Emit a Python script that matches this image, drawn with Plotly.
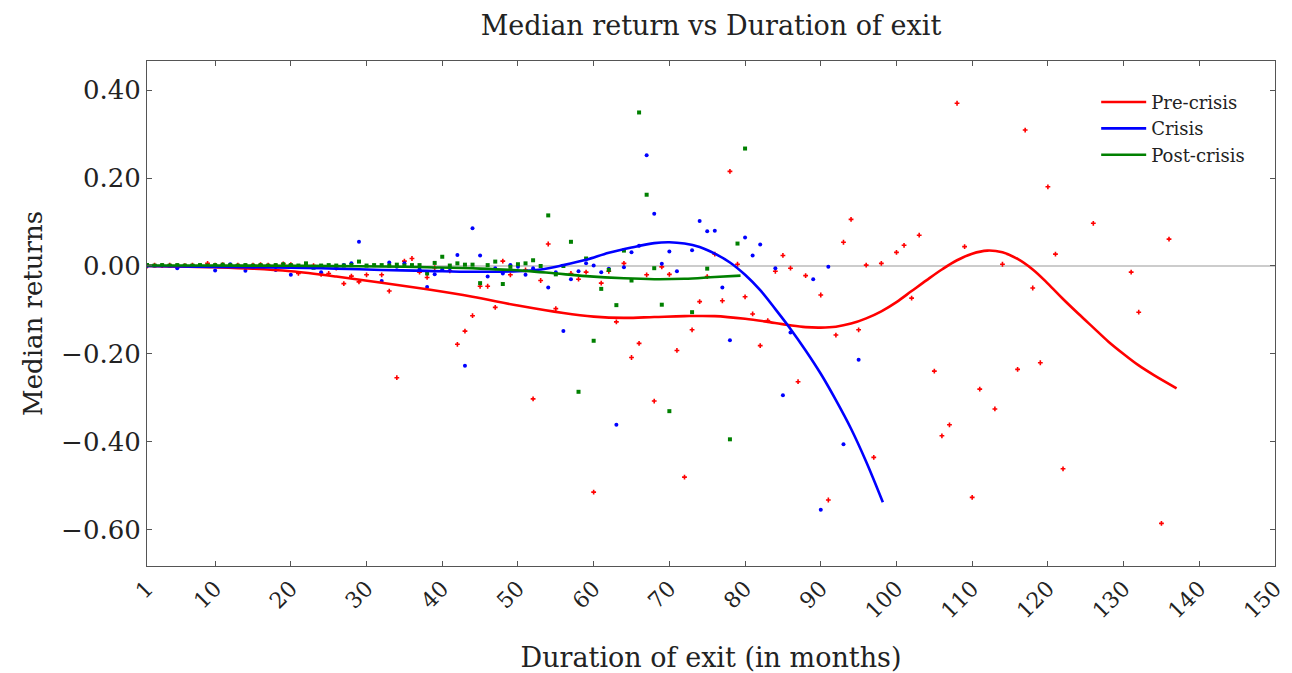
import plotly.graph_objects as go

# ---------------- data ----------------
# Pre-crisis scatter (month, median return)
pre_x = [1, 2, 3, 4, 5, 6, 7, 8, 9, 10, 11, 12, 13, 14, 15, 16, 17, 18, 19, 20,
         21, 22, 23, 24, 25, 26, 27, 28, 29, 30, 32, 33, 34, 35, 36, 37, 38, 39, 41, 42,
         43, 44, 45, 46, 47, 48, 49, 51, 52, 53, 54, 55, 57, 58, 59, 60, 61, 62, 63, 64,
         65, 66, 67, 68, 69, 70, 71, 72, 73, 74, 75, 76, 77, 78, 79, 80, 81, 82, 83, 84,
         85, 86, 87, 88, 90, 91, 92, 93, 94, 95, 96, 97, 98, 100, 101, 102, 103, 105, 106, 107,
         108, 109, 110, 111, 113, 114, 116, 117, 118, 119, 120, 121, 122, 126, 131, 132, 135, 136]
pre_y = [0.000, 0.002, 0.001, 0.002, 0.001, 0.001, 0.002, 0.001, 0.006, 0.002, 0.003, 0.001, 0.002, 0.001, 0.002, 0.003, 0.002, 0.001, 0.005, 0.003,
         -0.017, 0.000, 0.001, -0.019, -0.017, -0.005, -0.040, -0.023, -0.036, -0.020, -0.020, -0.057, -0.254, 0.011, 0.017, -0.014, -0.026, -0.004, -0.011, -0.178,
         -0.148, -0.113, -0.046, -0.046, -0.094, 0.011, -0.020, -0.009, -0.302, -0.033, 0.050, -0.097, -0.017, -0.030, -0.014, -0.514, -0.039, -0.012, -0.127, 0.006,
         -0.208, -0.176, -0.020, -0.307, -0.002, -0.019, -0.192, -0.480, -0.145, -0.081, -0.024, 0.027, -0.079, 0.215, 0.004, -0.070, -0.109, -0.181, -0.124, -0.012,
         0.024, -0.005, -0.263, -0.022, -0.066, -0.532, -0.157, 0.054, 0.106, -0.145, 0.002, -0.435, 0.006, 0.031, 0.047, -0.073, 0.070, -0.239, -0.386, -0.361,
         0.370, 0.044, -0.526, -0.280, -0.325, 0.004, -0.235, 0.309, -0.050, -0.220, 0.180, 0.027, -0.461, 0.097, -0.014, -0.105, -0.585, 0.061]

# Crisis scatter
cri_x = [1, 5, 10, 12, 14, 18, 20, 22, 24, 27, 28, 29, 32, 33, 34, 35, 37, 38, 39, 40,
         41, 42, 43, 44, 45, 46, 47, 48, 49, 50, 51, 52, 54, 55, 56, 57, 58, 59, 60, 61,
         62, 63, 64, 65, 66, 67, 68, 69, 70, 71, 73, 74, 75, 76, 77, 78, 80, 81, 82, 84,
         85, 86, 89, 90, 91, 93, 95]
cri_y = [0.000, -0.005, -0.010, 0.004, -0.011, -0.009, -0.020, -0.002, -0.014, 0.002, 0.006, 0.055, -0.034, 0.008, -0.002, 0.006, -0.008, -0.048, -0.019, -0.008,
         -0.005, 0.025, -0.227, 0.086, 0.024, -0.024, -0.005, -0.017, 0.002, -0.002, -0.020, -0.005, -0.049, -0.014, -0.148, -0.030, -0.012, 0.006, 0.001, -0.014,
         -0.006, -0.361, -0.003, 0.031, 0.046, 0.252, 0.119, 0.005, 0.033, -0.012, 0.036, 0.102, 0.079, 0.080, -0.049, -0.169, 0.065, 0.024, 0.049, -0.005,
         -0.294, -0.151, -0.030, -0.554, -0.002, -0.405, -0.213]

# Post-crisis scatter
post_x = [1, 2, 3, 4, 5, 6, 7, 8, 9, 10, 11, 12, 13, 14, 15, 16, 17, 18, 19, 20,
          21, 22, 23, 24, 25, 26, 27, 28, 29, 30, 31, 32, 33, 34, 35, 36, 37, 38, 39, 40,
          41, 42, 43, 44, 45, 46, 47, 48, 49, 50, 51, 52, 53, 54, 55, 56, 57, 58, 59, 60,
          61, 62, 63, 64, 65, 66, 67, 68, 69, 70, 73, 75, 78, 79, 80]
post_y = [0.002, 0.001, 0.002, 0.001, 0.002, 0.001, 0.001, 0.002, 0.001, 0.002, 0.003, 0.002, 0.001, 0.002, 0.001, 0.002, 0.001, 0.002, 0.004, 0.002,
          0.001, 0.006, -0.004, 0.001, 0.002, 0.001, 0.001, 0.002, 0.010, 0.001, 0.002, 0.002, 0.001, 0.003, 0.001, 0.002, 0.002, -0.017, 0.007, 0.021,
          0.001, 0.006, 0.003, 0.003, -0.039, 0.002, 0.010, -0.041, -0.002, 0.004, 0.006, 0.013, 0.000, 0.115, -0.019, 0.000, 0.055, -0.286, 0.017, -0.170,
          -0.052, -0.009, -0.089, 0.035, -0.033, 0.349, 0.162, -0.005, -0.088, -0.330, -0.105, -0.006, -0.394, 0.051, 0.267]

# Smoothed trend curves
pre_fit_x = [1, 10, 15, 20, 26, 32, 38, 44, 50, 56, 60, 64, 68, 72, 76, 80, 83, 86, 88, 90,
             92, 94, 96, 98, 100, 102, 104, 106, 108, 110, 112, 114, 116, 118, 120, 122, 124, 126, 128, 130,
             132, 134, 137]
pre_fit_y = [0.000, -0.003, -0.006, -0.012, -0.024, -0.038, -0.053, -0.070, -0.090, -0.107, -0.115, -0.118, -0.116, -0.114, -0.114, -0.120, -0.127, -0.135, -0.139, -0.140,
             -0.138, -0.131, -0.119, -0.103, -0.082, -0.057, -0.032, -0.008, 0.013, 0.028, 0.035, 0.031, 0.016, -0.008, -0.040, -0.075, -0.108, -0.140, -0.172, -0.200,
             -0.226, -0.248, -0.278]

cri_fit_x = [1, 10, 20, 26, 32, 38, 44, 50, 53, 56, 59, 62, 65, 68, 70, 72, 74, 76, 78, 80,
             82, 84, 86, 88, 90, 92, 94, 96, 98.2]
cri_fit_y = [0.000, -0.002, -0.004, -0.006, -0.009, -0.011, -0.013, -0.012, -0.008, 0.002, 0.014, 0.030, 0.042, 0.052, 0.054, 0.051, 0.043, 0.028, 0.008, -0.020,
             -0.055, -0.098, -0.143, -0.192, -0.245, -0.305, -0.370, -0.445, -0.537]

post_fit_x = [1, 10, 20, 25, 32, 38, 45, 51, 55, 59, 64, 68, 72, 76, 79.4]
post_fit_y = [0.001, 0.001, 0.0005, 0.000, -0.001, -0.003, -0.006, -0.011, -0.017, -0.023, -0.028, -0.030, -0.029, -0.025, -0.022]

x_ticks = [1, 10, 20, 30, 40, 50, 60, 70, 80, 90, 100, 110, 120, 130, 140, 150]
y_ticks = [-0.6, -0.4, -0.2, 0.0, 0.2, 0.4]

RED, BLUE, GREEN = "#ff0000", "#0000ff", "#008000"
FONT = "DejaVu Serif"
TXT = "#222222"

# the page body adds an 8px offset; size the figure to fit the window
W, H = 1284, 665
L, R, T, B = 139, 17, 53, 107

fig = go.Figure()

fig.add_trace(go.Scatter(x=pre_x, y=pre_y, mode="markers", showlegend=False,
                         marker=dict(symbol="cross", size=4, color=RED, line=dict(width=0))))
fig.add_trace(go.Scatter(x=cri_x, y=cri_y, mode="markers", showlegend=False,
                         marker=dict(symbol="circle", size=4, color=BLUE, line=dict(width=0))))
fig.add_trace(go.Scatter(x=post_x, y=post_y, mode="markers", showlegend=False,
                         marker=dict(symbol="square", size=4, color=GREEN, line=dict(width=0))))

fig.add_trace(go.Scatter(x=pre_fit_x, y=pre_fit_y, mode="lines", name="Pre-crisis",
                         line=dict(color=RED, width=2.6, shape="spline", smoothing=1.0)))
fig.add_trace(go.Scatter(x=cri_fit_x, y=cri_fit_y, mode="lines", name="Crisis",
                         line=dict(color=BLUE, width=2.6, shape="spline", smoothing=1.0)))
fig.add_trace(go.Scatter(x=post_fit_x, y=post_fit_y, mode="lines", name="Post-crisis",
                         line=dict(color=GREEN, width=2.6, shape="spline", smoothing=1.0)))

fig.update_layout(
    width=W, height=H,
    margin=dict(l=L, r=R, t=T, b=B, autoexpand=False),
    paper_bgcolor="white", plot_bgcolor="white",
    font=dict(family=FONT, color=TXT),
    title=dict(text="Median return vs Duration of exit", x=(L + (W - R)) / 2 / W, xanchor="center",
               y=1 - 18 / H, yanchor="middle", yref="container",
               font=dict(size=27, family=FONT, color=TXT)),
    legend=dict(x=0.978, y=0.955, xanchor="right", yanchor="top", bgcolor="rgba(255,255,255,0)",
                font=dict(size=18, family=FONT, color=TXT), itemwidth=45, tracegroupgap=0),
    showlegend=True,
)

fig.update_xaxes(range=[1, 150], tickvals=x_ticks, ticktext=[str(v) for v in x_ticks],
                 tickangle=-45, tickfont=dict(size=22, family=FONT, color=TXT), automargin=False,
                 ticks="inside", ticklen=5, tickcolor="#555555", showgrid=False, zeroline=False,
                 showline=True, linecolor="#555555", linewidth=1, mirror="ticks",
                 title=dict(text="Duration of exit (in months)", font=dict(size=27, family=FONT, color=TXT),
                            standoff=29))
fig.update_yaxes(range=[-0.682, 0.466], tickvals=y_ticks, tickformat=".2f", automargin=False,
                 tickfont=dict(size=26, family=FONT, color=TXT),
                 ticks="inside", ticklen=5, tickcolor="#555555", showgrid=False,
                 zeroline=True, zerolinecolor="#cccccc", zerolinewidth=1.5,
                 showline=True, linecolor="#555555", linewidth=1, mirror="ticks",
                 title=dict(text="Median returns", font=dict(size=26, family=FONT, color=TXT),
                            standoff=11))

fig.write_html("out.html")
